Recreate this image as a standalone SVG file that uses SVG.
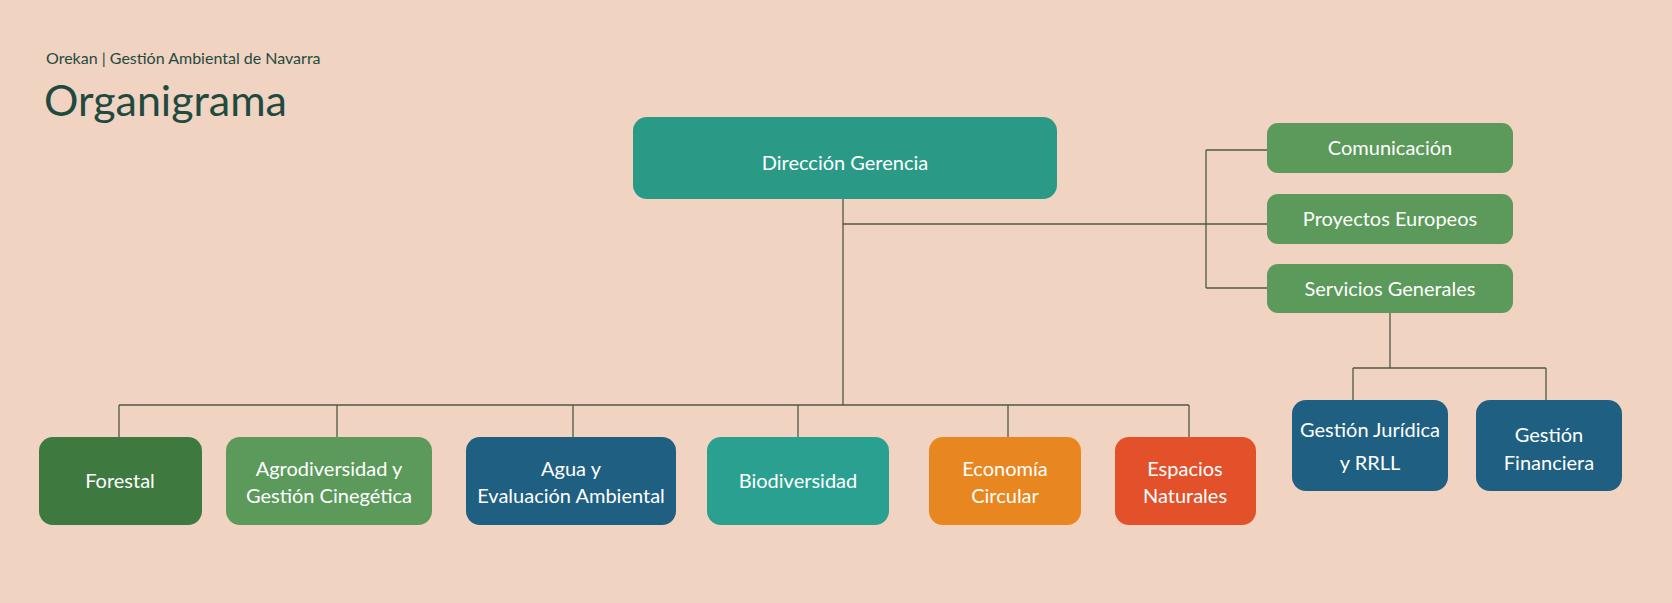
<svg xmlns="http://www.w3.org/2000/svg" width="1672" height="603" viewBox="0 0 1672 603">
<style>
text{font-family:"Lato","Open Sans",sans-serif}
.lbl{fill:#fff;font-size:20px;text-anchor:middle}
.ln{stroke:#4d5a48;stroke-width:1.3;fill:none}
</style>
<rect width="1672" height="603" fill="#f0d3c0"/>
<text x="46" y="64" font-size="16" fill="#1f4a40">Orekan | Gestión Ambiental de Navarra</text>
<text x="44" y="116" font-size="43" fill="#1f4a40">Organigrama</text>
<g id="connectors" class="ln">
<path d="M843 199V405M119 405H1189M119 405V437M337 405V437M573 405V437M798 405V437M1008 405V437M1189 405V437"/>
<path d="M843 224H1267M1206 150V288M1206 150H1267M1206 288H1267"/>
<path d="M1390 313V368M1353 368H1546M1353 368V400M1546 368V400"/>
</g>
<g id="direccion"><rect x="633" y="117" width="424" height="82" rx="14" fill="#2a9a86"/><text class="lbl" x="845" y="170" font-size="36">Dirección Gerencia</text></g>
<g id="comunicacion"><rect x="1267" y="123" width="246" height="50" rx="11" fill="#5b9a5a"/><text class="lbl" x="1390" y="155">Comunicación</text></g>
<g id="proyectos"><rect x="1267" y="194" width="246" height="50" rx="11" fill="#5b9a5a"/><text class="lbl" x="1390" y="226">Proyectos Europeos</text></g>
<g id="servicios"><rect x="1267" y="264" width="246" height="49" rx="11" fill="#5b9a5a"/><text class="lbl" x="1390" y="296">Servicios Generales</text></g>
<g id="forestal"><rect x="39" y="437" width="163" height="88" rx="14" fill="#3e7a40"/><text class="lbl" x="120" y="488">Forestal</text></g>
<g id="agro"><rect x="226" y="437" width="206" height="88" rx="14" fill="#5b9a5a"/><text class="lbl" x="329" y="476">Agrodiversidad y</text><text class="lbl" x="329" y="503">Gestión Cinegética</text></g>
<g id="agua"><rect x="466" y="437" width="210" height="88" rx="14" fill="#1e5f82"/><text class="lbl" x="571" y="476">Agua y</text><text class="lbl" x="571" y="503">Evaluación Ambiental</text></g>
<g id="biodiversidad"><rect x="707" y="437" width="182" height="88" rx="14" fill="#2aa090"/><text class="lbl" x="798" y="488">Biodiversidad</text></g>
<g id="economia"><rect x="929" y="437" width="152" height="88" rx="14" fill="#e8861f"/><text class="lbl" x="1005" y="476">Economía</text><text class="lbl" x="1005" y="503">Circular</text></g>
<g id="espacios"><rect x="1115" y="437" width="141" height="88" rx="14" fill="#e2512a"/><text class="lbl" x="1185" y="476">Espacios</text><text class="lbl" x="1185" y="503">Naturales</text></g>
<g id="juridica"><rect x="1292" y="400" width="156" height="91" rx="14" fill="#1e5f82"/><text class="lbl" x="1370" y="437">Gestión Jurídica</text><text class="lbl" x="1370" y="470">y RRLL</text></g>
<g id="financiera"><rect x="1476" y="400" width="146" height="91" rx="14" fill="#1e5f82"/><text class="lbl" x="1549" y="442">Gestión</text><text class="lbl" x="1549" y="470">Financiera</text></g>
</svg>
